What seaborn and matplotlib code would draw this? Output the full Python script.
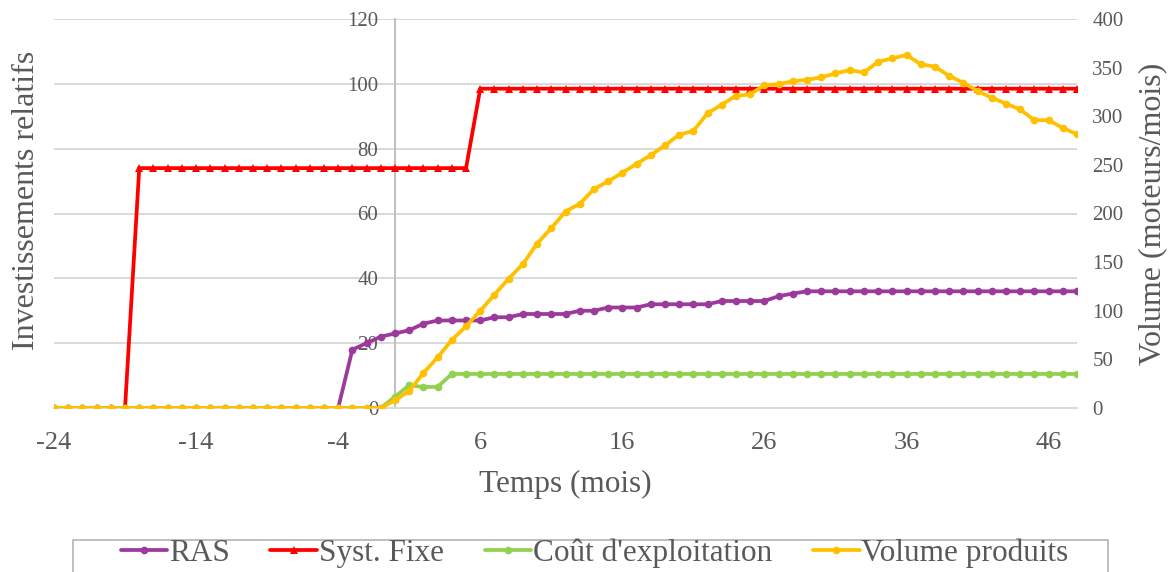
import numpy as np
import pandas as pd
import matplotlib
matplotlib.use("Agg")
import matplotlib.pyplot as plt
from matplotlib.patches import Rectangle
import seaborn as sns

# months from -24 to 48
MONTHS = list(range(-24, 49))

RAS = [0] * 21 + [18, 20, 22, 23, 24, 26, 27, 27, 27, 27, 28, 28, 29, 29, 29, 29,
                  30, 30, 31, 31, 31, 32, 32, 32, 32, 32, 33, 33, 33, 33, 34.5, 35.3] + [36] * 20
SYST_FIXE = [0] * 6 + [74] * 24 + [98.5] * 43
COUT_EXPL = [0] * 24 + [3.5, 7, 6.5, 6.5] + [10.5] * 45
VOLUME = [0] * 24 + [8, 17.5, 36, 52, 70, 84, 100, 116.5, 133, 148, 169, 185, 202, 210,
                     225, 233, 242, 251, 260, 270, 281, 285, 303, 312, 321, 322.5, 332, 333,
                     336, 337.5, 340, 344, 347.5, 345, 356, 359.5, 363, 353.5, 351, 341.5,
                     334.5, 326, 319, 313, 307, 296, 296, 288, 281.5]

LEFT_TICKS = [0, 20, 40, 60, 80, 100, 120]
RIGHT_TICKS = [0, 50, 100, 150, 200, 250, 300, 350, 400]
X_TICKS = [-24, -14, -4, 6, 16, 26, 36, 46]

PURPLE = "#9b3a9b"
RED = "#ff0000"
GREEN = "#92d050"
YELLOW = "#ffc000"
TXT = "#595959"
GRID = "#d9d9d9"

df = pd.DataFrame({"Temps": MONTHS, "RAS": RAS, "Syst. Fixe": SYST_FIXE,
                   "Coût d'exploitation": COUT_EXPL, "Volume produits": VOLUME})

sns.set_style("white")
plt.rcParams["font.family"] = ["Liberation Serif", "DejaVu Serif"]
plt.rcParams["text.color"] = TXT
plt.rcParams["axes.unicode_minus"] = False

W, H = 1174, 572
fig = plt.figure(figsize=(W / 100, H / 100), dpi=100)
ax = fig.add_axes([54 / W, 1 - 408 / H, (1077 - 54) / W, (408 - 19) / H])

lw = 2.7
ms = 5.5
sns.lineplot(data=df, x="Temps", y="RAS", ax=ax, color=PURPLE, marker="o", markersize=ms,
             markeredgewidth=0, linewidth=lw, label="RAS", legend=False)
sns.lineplot(data=df, x="Temps", y="Syst. Fixe", ax=ax, color=RED, marker="^", markersize=ms,
             markeredgewidth=0, linewidth=lw, label="Syst. Fixe", legend=False)
sns.lineplot(data=df, x="Temps", y="Coût d'exploitation", ax=ax, color=GREEN, marker="o",
             markersize=ms, markeredgewidth=0, linewidth=lw, label="Coût d'exploitation", legend=False)

ax2 = ax.twinx()
sns.lineplot(data=df, x="Temps", y="Volume produits", ax=ax2, color=YELLOW, marker="o",
             markersize=ms, markeredgewidth=0, linewidth=lw, label="Volume produits", legend=False)

ax.set_xlim(-24, 48)
ax.set_ylim(0, 120)
ax2.set_ylim(0, 400)
ax.set_xticks(X_TICKS)
ax.set_yticks(LEFT_TICKS)
ax2.set_yticks(RIGHT_TICKS)

ax.grid(axis="y", color=GRID, linewidth=1.4)
ax.grid(axis="x", visible=False)
ax.set_axisbelow(True)

# vertical axis crosses at month 0
ax.spines["left"].set_position(("data", 0))
ax.spines["left"].set_color("#bfbfbf")
ax.spines["left"].set_linewidth(1.4)
ax.spines["left"].set_zorder(1)
ax.spines["bottom"].set_color(GRID)
ax.spines["bottom"].set_linewidth(1.4)
for s in ["top", "right"]:
    ax.spines[s].set_visible(False)
for s in ax2.spines.values():
    s.set_visible(False)

ax.tick_params(axis="x", length=0, pad=17, labelsize=19, labelcolor=TXT)
ax.tick_params(axis="y", length=0, pad=12, labelsize=15, labelcolor=TXT)
ax2.tick_params(axis="y", length=0, pad=11, labelsize=15, labelcolor=TXT)

ax.set_xlabel("Temps (mois)", fontsize=22.5, color=TXT, labelpad=12)
ax.set_ylabel("Investissements relatifs", fontsize=23, color=TXT)
ax.yaxis.set_label_coords(-0.013, 0.535)
ax2.set_ylabel("Volume (moteurs/mois)", fontsize=23, color=TXT)
ax2.yaxis.set_label_coords(1.06, 0.5)

h1, l1 = ax.get_legend_handles_labels()
h2, l2 = ax2.get_legend_handles_labels()
fig.legend(h1 + h2, l1 + l2, loc="center", bbox_to_anchor=((114 + 1075) / 2 / W, 1 - 553 / H),
           ncol=4, frameon=False, fontsize=22.5, handlelength=1.5, handletextpad=0.05,
           columnspacing=1.3, labelcolor=TXT)
fig.patches.append(Rectangle((73 / W, 1 - 590 / H), (1108 - 73) / W, 50 / H,
                             transform=fig.transFigure, fill=False, edgecolor="#bfbfbf",
                             linewidth=1.4))

fig.savefig("out.png", dpi=100)
